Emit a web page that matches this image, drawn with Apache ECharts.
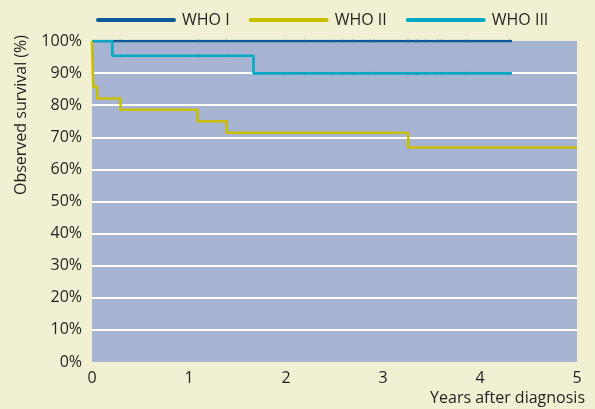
<!DOCTYPE html>
<html>
<head>
<meta charset="utf-8">
<script src="https://cdn.jsdelivr.net/npm/echarts@6/dist/echarts.min.js"></script>
<style>
html,body{margin:0;padding:0;background:#f2f0d3;}
#c{width:595px;height:409px;}
</style>
</head>
<body>
<div id="c"></div>
<script>
// Kaplan-Meier step data (years after diagnosis, observed survival %)
var seriesNames = ['WHO I', 'WHO II', 'WHO III'];
var whoITimes = [0, 4.33];
var whoIValues = [100, 100];
var whoIITimes = [0, 0.013, 0.055, 0.295, 1.09, 1.39, 3.26, 5];
var whoIIValues = [100, 85.7, 82.1, 78.6, 75.0, 71.4, 66.8, 66.8];
var whoIIITimes = [0, 0.21, 1.665, 4.33];
var whoIIIValues = [100, 95.4, 89.9, 89.9];
// censoring tick positions (years)
var censorTimesEarly = [0.29, 1.10, 1.39];
var censorTimesLate = [1.99, 2.19, 2.48, 2.58, 2.69, 2.86, 2.91, 3.25, 3.27, 3.34, 3.36, 3.44, 3.56, 3.61, 3.85, 3.88, 4.30];
var xTicks = [0, 1, 2, 3, 4, 5];
var yTicks = [0, 10, 20, 30, 40, 50, 60, 70, 80, 90, 100];

var colors = {'WHO I': '#0c5a97', 'WHO II': '#c7bf00', 'WHO III': '#06a9c5'};
var FONT = '"Open Sans", sans-serif';
var TXT = '#231f20';

function pairs(t, v) { return t.map(function (x, i) { return [x, v[i]]; }); }
function censorPts(times, levelFn) { return times.map(function (x) { return [x, levelFn(x)]; }); }
function whoIIILevel(x) { return x < 0.21 ? 100 : (x < 1.665 ? 95.4 : 89.9); }

var chart = echarts.init(document.getElementById('c'), null, {renderer: 'canvas'});
var allCensor = censorTimesEarly.concat(censorTimesLate);
chart.setOption({
  backgroundColor: '#f2f0d3',
  animation: false,
  textStyle: {fontFamily: FONT},
  legend: {
    data: seriesNames,
    left: 91,
    top: 7,
    itemWidth: 80,
    itemHeight: 4,
    itemGap: 19,
    icon: 'path://M2,0H78A2,2,0,0,1,78,4H2A2,2,0,0,1,2,0Z',
    textStyle: {fontFamily: FONT, fontSize: 16, color: TXT, padding: [0, 0, 0, 1]}
  },
  grid: {left: 92, right: 18, top: 41, bottom: 47, show: true, backgroundColor: '#a6b3d1', borderWidth: 0},
  xAxis: {
    type: 'value', min: 0, max: 5, interval: 1,
    axisLine: {show: false}, axisTick: {show: false}, splitLine: {show: false},
    axisLabel: {color: TXT, fontSize: 16, fontFamily: FONT, margin: 8,
      formatter: function (v) { return xTicks.indexOf(v) >= 0 ? String(v) : ''; }}
  },
  yAxis: {
    type: 'value', min: 0, max: 100, interval: 10,
    axisLine: {show: false}, axisTick: {show: false},
    splitLine: {show: true, showMinLine: false, showMaxLine: false, lineStyle: {color: '#ffffff', width: 2}},
    axisLabel: {color: TXT, fontSize: 16, fontFamily: FONT, margin: 10,
      formatter: function (v) { return yTicks.indexOf(v) >= 0 ? v + '%' : ''; }}
  },
  graphic: [
    {type: 'text', x: 21, y: 115, rotation: Math.PI / 2,
      style: {text: 'Observed survival (%)', fill: TXT, font: '16px ' + FONT, textAlign: 'center', textVerticalAlign: 'middle'}},
    {type: 'text', x: 585, y: 398,
      style: {text: 'Years after diagnosis', fill: TXT, font: '16px ' + FONT, textAlign: 'right', textVerticalAlign: 'middle'}}
  ],
  series: [
    {name: 'WHO I', type: 'line', step: 'end', showSymbol: false, z: 2,
      data: pairs(whoITimes, whoIValues),
      itemStyle: {color: colors['WHO I']}, lineStyle: {color: colors['WHO I'], width: 2.6}},
    {name: 'WHO III', type: 'line', step: 'end', showSymbol: false, z: 3,
      data: pairs(whoIIITimes, whoIIIValues),
      itemStyle: {color: colors['WHO III']}, lineStyle: {color: colors['WHO III'], width: 2.6}},
    {name: 'WHO II', type: 'line', step: 'end', showSymbol: false, z: 4,
      data: pairs(whoIITimes, whoIIValues),
      itemStyle: {color: colors['WHO II']}, lineStyle: {color: colors['WHO II'], width: 2.6}},
    {name: 'censorI', type: 'scatter', z: 5, symbol: 'rect', symbolSize: [1, 3.5], silent: true,
      data: censorPts(allCensor, function () { return 100; }),
      itemStyle: {color: '#2f6a9a', opacity: 0.45}},
    {name: 'censorIII', type: 'scatter', z: 5, symbol: 'rect', symbolSize: [1, 3.5], silent: true,
      data: censorPts(allCensor, whoIIILevel),
      itemStyle: {color: '#1b8fb0', opacity: 0.45}}
  ]
});
</script>
</body>
</html>
